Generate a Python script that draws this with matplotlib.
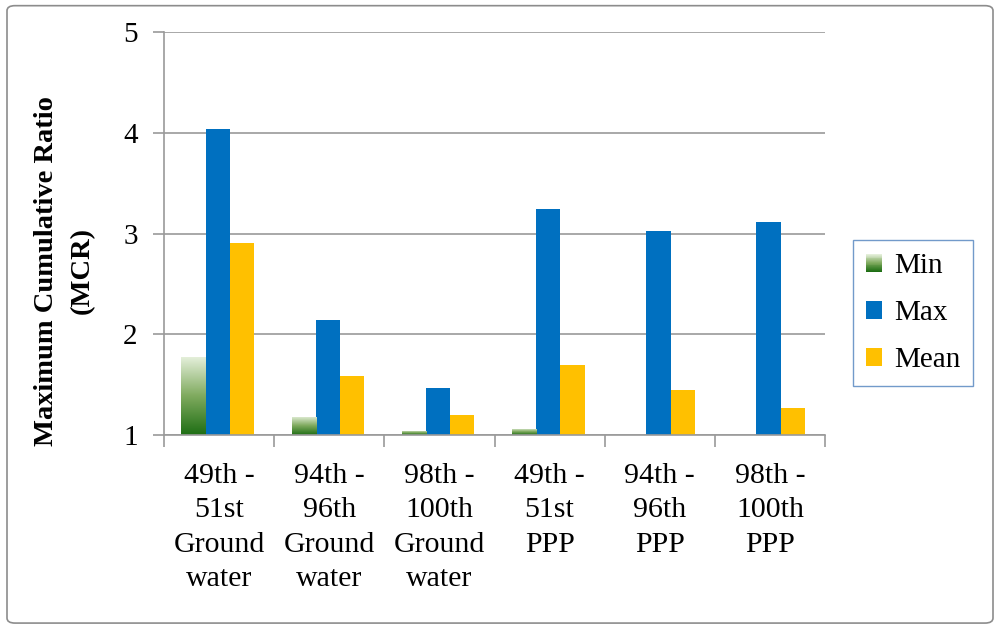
import numpy as np
import matplotlib
matplotlib.use("Agg")
import matplotlib.pyplot as plt
from matplotlib.patches import Rectangle, FancyBboxPatch
from matplotlib.legend_handler import HandlerBase
from matplotlib.colors import LinearSegmentedColormap

plt.rcParams["font.family"] = "serif"
plt.rcParams["font.serif"] = ["Liberation Serif", "DejaVu Serif"]
FONT = "Liberation Serif"

CATEGORIES = ["49th -\n51st\nGround\nwater", "94th -\n96th\nGround\nwater",
              "98th -\n100th\nGround\nwater", "49th -\n51st\nPPP",
              "94th -\n96th\nPPP", "98th -\n100th\nPPP"]
MIN_VALS  = [1.77, 1.18, 1.04, 1.06, 1.0, 1.0]
MAX_VALS  = [4.04, 2.14, 1.47, 3.24, 3.03, 3.11]
MEAN_VALS = [2.91, 1.59, 1.20, 1.70, 1.45, 1.27]

BASE = 1.0
C_MAX, C_MEAN = "#0070C0", "#FFC000"
green_cmap = LinearSegmentedColormap.from_list("g", ["#1E6E14", "#7FAA5E", "#E4EFDA"])
GRID = "#9a9a9a"


class GradientHandler(HandlerBase):
    # legend key as a stack of thin strips, dark at the bottom
    def create_artists(self, legend, orig_handle, xdescent, ydescent,
                       width, height, fontsize, trans):
        n = 20
        arts = []
        for k in range(n):
            r = Rectangle((-xdescent, -ydescent + height * k / n), width, height / n + 0.3,
                          facecolor=green_cmap(k / (n - 1)), edgecolor="none",
                          transform=trans)
            arts.append(r)
        return arts


fig = plt.figure(figsize=(10, 6.3), dpi=100)
ax = fig.add_axes([0.164, 0.3095, 0.661, 0.6395])

x = np.arange(len(CATEGORIES))
w = 0.22
off = -0.012

min_bars = ax.bar(x - w + off, np.array(MIN_VALS) - BASE, w, bottom=BASE,
                  color="none", edgecolor="none", label="Min")
ax.bar(x + off, np.array(MAX_VALS) - BASE, w, bottom=BASE, color=C_MAX, label="Max")
ax.bar(x + w + off, np.array(MEAN_VALS) - BASE, w, bottom=BASE, color=C_MEAN, label="Mean")

grad = np.linspace(0, 1, 256).reshape(-1, 1)
for b in min_bars:
    h = b.get_height()
    if h <= 0:
        continue
    bx = b.get_x()
    im = ax.imshow(grad, cmap=green_cmap, origin="lower", aspect="auto",
                   extent=[bx, bx + b.get_width(), BASE, BASE + h], zorder=2)
    im.set_clip_path(b)

ax.set_xlim(-0.5, 5.5)
ax.set_ylim(1, 5)
ax.set_yticks([1, 2, 3, 4, 5])
ax.set_xticks(x)
ax.set_xticklabels(CATEGORIES, fontsize=21.5, linespacing=1.42, family=FONT)
ax.set_xticks(np.arange(-0.5, 6, 1), minor=True)
ax.tick_params(axis="x", which="major", length=0, pad=20)
ax.tick_params(axis="x", which="minor", length=8.5, color=GRID, width=1.2)
ax.tick_params(axis="y", length=8, color=GRID, width=1.2, labelsize=21, pad=11)
for lab in ax.get_yticklabels():
    lab.set_family(FONT)

ax.grid(axis="y", color=GRID, lw=1.2)
ax.set_axisbelow(True)
for s in ["top", "right"]:
    ax.spines[s].set_visible(False)
for s in ["left", "bottom"]:
    ax.spines[s].set_color(GRID)
    ax.spines[s].set_linewidth(1.2)

fig.text(0.0645, 1 - 271 / 630, "Maximum Cumulative Ratio\n(MCR)", rotation=90,
         ha="center", va="center", fontsize=20.5, fontweight="bold",
         family=FONT, linespacing=1.6)

handles, labels = ax.get_legend_handles_labels()
leg = fig.legend(handles, labels, handler_map={min_bars: GradientHandler()},
                 loc="upper left", bbox_to_anchor=(0.853, 1 - 240 / 630),
                 prop={"family": FONT, "size": 21}, frameon=True, fancybox=False,
                 handlelength=0.55, handleheight=0.55, handletextpad=0.4,
                 labelspacing=0.72, borderpad=0.45, borderaxespad=0)
leg.get_frame().set_edgecolor("#4F81BD")
leg.get_frame().set_linewidth(1.0)

fig.patches.append(FancyBboxPatch((0.007, 0.011), 0.986, 0.98,
                                  boxstyle="round,pad=0,rounding_size=0.008",
                                  transform=fig.transFigure, facecolor="none",
                                  edgecolor="#8c8c8c", lw=1.2))

fig.savefig("out.png", dpi=100)
